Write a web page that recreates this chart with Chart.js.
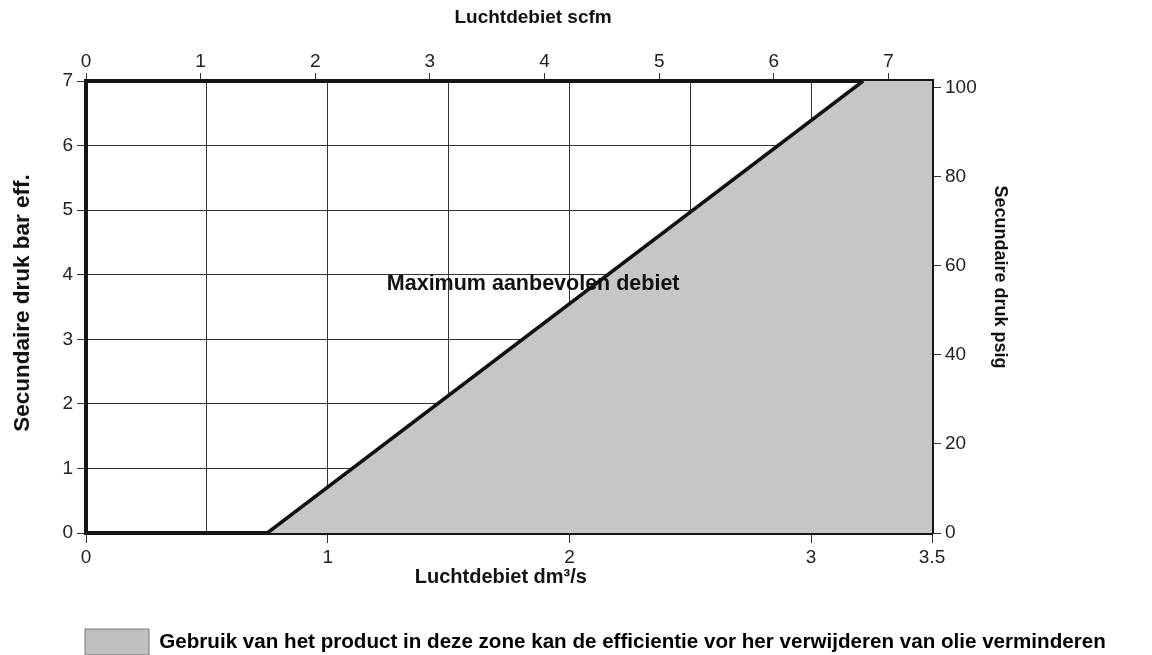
<!DOCTYPE html>
<html>
<head>
<meta charset="utf-8">
<script src="https://cdn.jsdelivr.net/npm/chart.js@4/dist/chart.umd.min.js"></script>
<style>
    html, body { margin: 0; padding: 0; background: #ffffff; }
    #wrap { width: 1152px; height: 655px; position: relative; }
</style>
</head>
<body>
<div id="wrap"><canvas id="grafico"></canvas></div>
<script>
// dados
const zonaX = [0.75, 3.215, 3.5];      // dm3/s
const zonaY = [0, 7, 7];               // bar
const linhaX = [0.75, 3.215];
const linhaY = [0, 7];

const ticksDm3 = [0, 1, 2, 3, 3.5];    // rotulos do eixo de baixo
const gradeDm3 = 0.5;                  // passo da grade vertical
const maxDm3 = 3.5;
const maxBar = 7;
const maxScfm = 7.38;
const maxPsig = 101.5;

const tituloTopo = "Luchtdebiet scfm";
const tituloBaixo = "Luchtdebiet dm³/s";
const tituloEsq = "Secundaire druk bar eff.";
const tituloDir = "Secundaire druk psig";
const rotuloLinha = "Maximum aanbevolen debiet";
const legendaTexto = "Gebruik van het product in deze zone kan de efficientie vor her verwijderen van olie verminderen";

const fonte = "'Liberation Sans', Arial, Helvetica, sans-serif";
const corGrade = "#333333";
const corBorda = "#151515";
const padLegenda = 15;

function pontos(xs, ys) {
    return xs.map((v, i) => ({ x: v, y: ys[i] }));
}

function escreve(ctx, texto, tam, x, y, angulo, alinha) {
    ctx.save();
    ctx.font = "bold " + tam + "px " + fonte;
    ctx.textAlign = alinha || "center";
    ctx.translate(x, y);
    ctx.rotate(angulo);
    ctx.fillText(texto, 0, 0);
    ctx.restore();
}

// textos dos eixos e o rotulo da linha
const textosPlugin = {
    id: 'textos',
    afterLayout(chart) {
        // legenda fica embaixo, alinhada com o grafico
        const lg = chart.legend;
        if (lg) {
            lg.left = 85 - padLegenda;
            lg.right = chart.width;
            lg.top = 629 - padLegenda;
            lg.bottom = chart.height;
        }
    },
    afterDraw(chart) {
        const ctx = chart.ctx;
        const sx = chart.scales.x, sy = chart.scales.y, sx2 = chart.scales.x2;
        ctx.save();
        ctx.fillStyle = "#111";
        ctx.textBaseline = "middle";

        escreve(ctx, tituloTopo, 19, sx2.getPixelForValue(3.9), 18, 0);
        escreve(ctx, tituloBaixo, 20, sx.getPixelForValue(1.36), 577, 0, "left");
        escreve(ctx, rotuloLinha, 21.5, sx.getPixelForValue(1.85), sy.getPixelForValue(3.85), 0);
        escreve(ctx, tituloEsq, 22.5, 23, 303, -Math.PI / 2);
        escreve(ctx, tituloDir, 18, 1000, 277, Math.PI / 2);

        ctx.restore();
    }
};

function marcaRotulo(v) {
    return ticksDm3.indexOf(v) > -1;
}

function initializeGrafico(chartId) {
    const ctx = document.getElementById(chartId).getContext('2d');
    const fonteTicks = { family: fonte, size: 19 };

    new Chart(ctx, {
        type: 'line',
        data: {
            datasets: [
                {
                    label: rotuloLinha,
                    data: pontos(linhaX, linhaY),
                    borderColor: "#111",
                    borderWidth: 3.5,
                    pointRadius: 0,
                    fill: false,
                    tension: 0
                },
                {
                    label: legendaTexto,
                    data: pontos(zonaX, zonaY),
                    backgroundColor: "#c6c6c8",
                    borderWidth: 0,
                    pointRadius: 0,
                    fill: 'origin',
                    tension: 0
                }
            ]
        },
        options: {
            responsive: true,
            maintainAspectRatio: false,
            animation: false,
            layout: { padding: 0 },
            plugins: {
                tooltip: { enabled: false },
                legend: {
                    position: 'bottom',
                    align: 'start',
                    labels: {
                        boxWidth: 64,
                        boxHeight: 26,
                        padding: padLegenda,
                        color: "#000",
                        font: { family: fonte, size: 20.6, weight: 'bold' },
                        generateLabels: (chart) => [{
                            text: legendaTexto,
                            fillStyle: "#c0c0c0",
                            strokeStyle: "#777",
                            lineWidth: 1,
                            datasetIndex: 1
                        }]
                    }
                }
            },
            scales: {
                x: {
                    type: 'linear',
                    position: 'bottom',
                    min: 0,
                    max: maxDm3,
                    z: 1,
                    afterFit: (s) => { s.height = s.chart.height - s.chart.legend.height - 533; },
                    grid: {
                        color: corGrade,
                        lineWidth: 1,
                        tickLength: 10,
                        tickColor: (c) => marcaRotulo(c.tick.value) ? corGrade : 'rgba(0,0,0,0)'
                    },
                    border: { display: true, color: corBorda, width: 4 },
                    ticks: {
                        stepSize: gradeDm3,
                        autoSkip: false,
                        maxRotation: 0,
                        padding: 3,
                        color: "#222",
                        font: fonteTicks,
                        callback: (v) => marcaRotulo(v) ? String(v) : ''
                    }
                },
                x2: {
                    type: 'linear',
                    position: 'top',
                    display: true,
                    min: 0,
                    max: maxScfm,
                    z: 1,
                    afterFit: (s) => { s.height = 81; },
                    grid: { drawOnChartArea: false, tickLength: 8, color: corGrade },
                    border: { display: true, color: corBorda, width: 4 },
                    ticks: {
                        stepSize: 1,
                        includeBounds: false,
                        autoSkip: false,
                        maxRotation: 0,
                        padding: 0,
                        color: "#222",
                        font: fonteTicks
                    }
                },
                y: {
                    type: 'linear',
                    position: 'left',
                    min: 0,
                    max: maxBar,
                    z: 1,
                    afterFit: (s) => { s.width = 86; },
                    grid: { color: corGrade, lineWidth: 1, tickLength: 9 },
                    border: { display: true, color: corBorda, width: 4 },
                    ticks: { stepSize: 1, padding: 4, color: "#222", font: fonteTicks }
                },
                y2: {
                    type: 'linear',
                    position: 'right',
                    display: true,
                    min: 0,
                    max: maxPsig,
                    z: 1,
                    afterFit: (s) => { s.width = 220; },
                    grid: { drawOnChartArea: false, tickLength: 9, color: corGrade },
                    border: { display: true, color: corBorda, width: 4 },
                    ticks: {
                        stepSize: 20,
                        includeBounds: false,
                        padding: 4,
                        color: "#222",
                        font: fonteTicks
                    }
                }
            }
        },
        plugins: [textosPlugin]
    });
}

initializeGrafico('grafico');
</script>
</body>
</html>
